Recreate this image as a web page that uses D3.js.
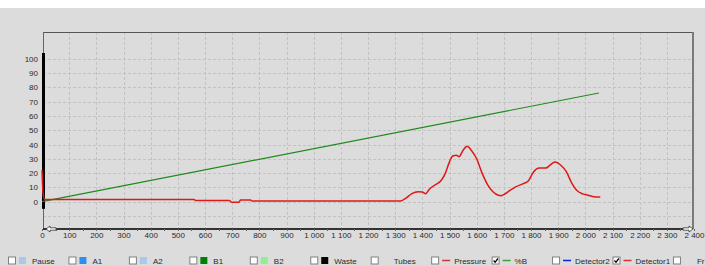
<!DOCTYPE html>
<html>
<head>
<meta charset="utf-8">
<script src="https://cdn.jsdelivr.net/npm/d3@7"></script>
<style>
  html, body { margin: 0; padding: 0; background: #dcdcdc; }
  svg { display: block; font-family: "Liberation Sans", Arial, sans-serif; }
</style>
</head>
<body>
<div id="chart"></div>
<script>
// run time (x) and values
const xTicks = d3.range(0, 2401, 100);
const yTicks = d3.range(0, 101, 10);
const yGrid = d3.range(-10, 101, 10);

const percentB = [[0, 0], [2050, 76]];

const detector1 = [
  [0, 22], [4, 6], [10, 1.5], [560, 1.5], [565, 0.8], [690, 0.8], [697, -0.3],
  [725, -0.3], [731, 1.2], [768, 1.2], [773, 0.5], [1320, 0.5], [1340, 2.5],
  [1360, 5.5], [1385, 7], [1400, 6.8], [1412, 5.5], [1425, 8.5], [1445, 11.5],
  [1470, 15], [1485, 20], [1498, 27], [1512, 32], [1525, 32.5], [1535, 31.5],
  [1550, 36], [1565, 38.8], [1580, 36], [1600, 30], [1620, 20], [1640, 12],
  [1660, 7], [1680, 4.5], [1690, 4.2], [1700, 5], [1720, 7.5], [1745, 10.5],
  [1770, 12.5], [1790, 14.5], [1810, 21], [1830, 23.5], [1855, 23.5],
  [1870, 25.5], [1888, 27.8], [1910, 25.5], [1930, 21], [1950, 13], [1968, 8],
  [1990, 5.5], [2010, 4.5], [2030, 3.5], [2055, 3.2]
];

const legendNames = ['Pause', 'A1', 'A2', 'B1', 'B2', 'Waste', 'Tubes', 'Pressure', '%B', 'Detector2', 'Detector1', 'Fr'];
const legendKinds = ['box', 'box', 'box', 'box', 'box', 'box', 'none', 'line', 'line', 'line', 'line', 'none'];
const legendColors = ['#a9c8ec', '#2e8ff0', '#a9c8ec', '#008000', '#90f090', '#000000', null, '#d83030', '#3aa03a', '#1020d0', '#d83030', null];
const legendChecked = [false, false, false, false, false, false, false, false, true, false, true, false];

const width = 705, height = 266;
const frame = { left: 43, top: 32, right: 693, bottom: 229 };

const svg = d3.select('#chart').append('svg')
  .attr('width', width)
  .attr('height', height);

svg.append('rect').attr('width', width).attr('height', height).attr('fill', '#dcdcdc');
svg.append('rect').attr('width', width).attr('height', 8).attr('fill', '#ffffff');

const x = d3.scaleLinear().domain([0, 2400]).range([42, 694]);
const y = d3.scaleLinear().domain([0, 100]).range([201.7, 58.7]);

// grid
const grid = svg.append('g')
  .attr('stroke', '#c2c2c2')
  .attr('stroke-width', 1)
  .attr('stroke-dasharray', '3,2');

grid.selectAll('line.v')
  .data(xTicks.filter((d) => d > 0 && d < 2400))
  .join('line')
  .attr('x1', (d) => Math.round(x(d)) + 0.5)
  .attr('x2', (d) => Math.round(x(d)) + 0.5)
  .attr('y1', frame.top)
  .attr('y2', frame.bottom);

grid.selectAll('line.h')
  .data(yGrid)
  .join('line')
  .attr('x1', frame.left)
  .attr('x2', frame.right)
  .attr('y1', (d) => Math.round(y(d)) + 0.5)
  .attr('y2', (d) => Math.round(y(d)) + 0.5);

// frame
svg.append('line')
  .attr('x1', frame.left).attr('x2', frame.right)
  .attr('y1', frame.top + 0.5).attr('y2', frame.top + 0.5)
  .attr('stroke', '#555').attr('stroke-width', 1);
svg.append('line')
  .attr('x1', frame.left + 0.5).attr('x2', frame.left + 0.5)
  .attr('y1', frame.top).attr('y2', frame.bottom)
  .attr('stroke', '#666').attr('stroke-width', 1);
svg.append('line')
  .attr('x1', frame.right).attr('x2', frame.right)
  .attr('y1', frame.top).attr('y2', frame.bottom)
  .attr('stroke', '#7a7a7a').attr('stroke-width', 2);

// black bar on the value axis
svg.append('line')
  .attr('x1', frame.left + 0.5).attr('x2', frame.left + 0.5)
  .attr('y1', y(104)).attr('y2', y(-5))
  .attr('stroke', '#000').attr('stroke-width', 3);

// axes labels
const fmt = d3.formatLocale({ decimal: '.', thousands: ' ', grouping: [3], currency: ['', ''] }).format(',');

const xAxis = svg.append('g')
  .attr('transform', `translate(0,${frame.bottom + 3})`)
  .call(d3.axisBottom(x).tickValues(xTicks).tickSize(0).tickPadding(0).tickFormat(fmt));
xAxis.select('.domain').remove();
xAxis.selectAll('text')
  .attr('dy', '0.71em')
  .attr('font-size', 8)
  .attr('fill', '#2a2a2a')
  .attr('font-family', '"Liberation Sans", Arial, sans-serif');

const yAxis = svg.append('g')
  .attr('transform', 'translate(38,0)')
  .call(d3.axisLeft(y).tickValues(yTicks).tickSize(0).tickPadding(0));
yAxis.select('.domain').remove();
yAxis.selectAll('text')
  .attr('font-size', 8)
  .attr('fill', '#2a2a2a')
  .attr('font-family', '"Liberation Sans", Arial, sans-serif');

// bottom axis line, minor ticks and arrows
svg.append('line')
  .attr('x1', frame.left).attr('x2', 688)
  .attr('y1', frame.bottom).attr('y2', frame.bottom)
  .attr('stroke', '#333').attr('stroke-width', 2);
svg.append('g')
  .selectAll('line')
  .data(d3.range(0, 2401, 50))
  .join('line')
  .attr('x1', (d) => Math.round(x(d)) + 0.5)
  .attr('x2', (d) => Math.round(x(d)) + 0.5)
  .attr('y1', frame.bottom)
  .attr('y2', frame.bottom + 2)
  .attr('stroke', '#666');

const arrowPath = 'M0,0 L4,-3 L4,-1.2 L10,-1.2 L10,1.2 L4,1.2 L4,3 Z';
svg.append('path')
  .attr('d', arrowPath)
  .attr('transform', `translate(46,${frame.bottom})`)
  .attr('fill', '#fff').attr('stroke', '#333').attr('stroke-width', 0.8);
svg.append('path')
  .attr('d', arrowPath)
  .attr('transform', `translate(693,${frame.bottom}) scale(-1,1)`)
  .attr('fill', '#fff').attr('stroke', '#333').attr('stroke-width', 0.8);

// series
const line = d3.line().x((d) => x(d[0])).y((d) => y(d[1]));

svg.append('path')
  .datum(percentB)
  .attr('d', line)
  .attr('fill', 'none')
  .attr('stroke', '#1f8a1f')
  .attr('stroke-width', 1.2);

svg.append('path')
  .datum(detector1)
  .attr('d', line.curve(d3.curveMonotoneX))
  .attr('fill', 'none')
  .attr('stroke', '#e01818')
  .attr('stroke-width', 1.5);

// legend
const legend = svg.append('g')
  .attr('font-size', 8)
  .attr('fill', '#2a2a2a');

const item = legend.selectAll('g')
  .data(legendNames)
  .join('g')
  .attr('transform', (d, i) => `translate(${8 + i * 60.45},256.5)`);

item.append('rect')
  .attr('x', 0.5).attr('y', 0.5)
  .attr('width', 7).attr('height', 7)
  .attr('fill', '#fff')
  .attr('stroke', '#808080');

item.filter((d, i) => legendChecked[i])
  .append('path')
  .attr('d', 'M2,4 L3.5,5.8 L6.3,2')
  .attr('fill', 'none')
  .attr('stroke', '#000')
  .attr('stroke-width', 1.3);

item.filter((d, i) => legendKinds[i] === 'box')
  .append('rect')
  .attr('x', 11).attr('y', 0.5)
  .attr('width', 7).attr('height', 7)
  .attr('fill', (d) => legendColors[legendNames.indexOf(d)]);

item.filter((d, i) => legendKinds[i] === 'line')
  .append('line')
  .attr('x1', 11).attr('x2', 19)
  .attr('y1', 4).attr('y2', 4)
  .attr('stroke', (d) => legendColors[legendNames.indexOf(d)])
  .attr('stroke-width', 1.5);

item.append('text')
  .attr('x', (d, i) => (legendKinds[i] === 'line' || d === 'Tubes') ? 23 : 24)
  .attr('y', 7)
  .text((d) => d);
</script>
</body>
</html>
